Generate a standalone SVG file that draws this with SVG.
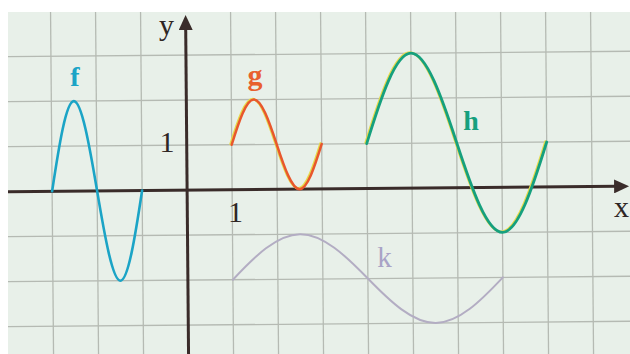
<svg xmlns="http://www.w3.org/2000/svg" width="630" height="354" viewBox="0 0 630 354">
<style>
.grid line{stroke:#b5bab3;stroke-width:1.3}
.axis{stroke:#3a2c2a;stroke-width:3;fill:none}
.crv{fill:none;stroke-linecap:round;stroke-linejoin:round}
.yel{stroke:#e6d94a;stroke-width:2.4}
text{font-family:"Liberation Serif","Times New Roman",serif}
.lbl{fill:#2e2624;font-size:30px}
</style>
<defs>
<clipPath id="c"><rect x="8" y="12" width="622" height="342"/></clipPath>
<marker id="ah" markerUnits="userSpaceOnUse" markerWidth="16" markerHeight="14" refX="3" refY="7" orient="auto">
<path d="M0,0 L15,7 L0,14 z" fill="#3a2c2a"/>
</marker>
</defs>
<rect width="630" height="354" fill="#ffffff"/>
<rect x="8" y="12" width="622" height="342" fill="#e8f0e9"/>
<g clip-path="url(#c)">
<g transform="rotate(-0.5 315 177)">
<g id="grid" class="grid">
<line x1="52" y1="0" x2="52" y2="360"/>
<line x1="97" y1="0" x2="97" y2="360"/>
<line x1="142" y1="0" x2="142" y2="360"/>
<line x1="232" y1="0" x2="232" y2="360"/>
<line x1="277" y1="0" x2="277" y2="360"/>
<line x1="322" y1="0" x2="322" y2="360"/>
<line x1="367" y1="0" x2="367" y2="360"/>
<line x1="412" y1="0" x2="412" y2="360"/>
<line x1="457" y1="0" x2="457" y2="360"/>
<line x1="502" y1="0" x2="502" y2="360"/>
<line x1="547" y1="0" x2="547" y2="360"/>
<line x1="592" y1="0" x2="592" y2="360"/>
<line x1="0" y1="54" x2="640" y2="54"/>
<line x1="0" y1="99" x2="640" y2="99"/>
<line x1="0" y1="144" x2="640" y2="144"/>
<line x1="0" y1="234" x2="640" y2="234"/>
<line x1="0" y1="279" x2="640" y2="279"/>
<line x1="0" y1="324" x2="640" y2="324"/>
</g>
<g id="axes">
<line class="axis" x1="0" y1="189" x2="617" y2="189" marker-end="url(#ah)"/>
<line class="axis" x1="187" y1="360" x2="187" y2="26" marker-end="url(#ah)"/>
</g>
<g id="curves">
<path id="f" class="crv" stroke="#1ba4c6" stroke-width="2.6" d="M52,189 C59.34,142.89 66.80,99 74.5,99 C82.20,99 89.66,142.89 97,189 C104.34,235.11 111.80,279 119.5,279 C127.20,279 134.66,235.11 142,189"/>
<g id="g">
<path class="crv yel" transform="translate(-1.2,-0.6)" d="M232,144 C239.34,120.95 246.80,99 254.5,99 C262.20,99 269.66,120.95 277,144 C284.34,167.05 291.80,189 299.5,189 C307.20,189 314.66,167.05 322,144"/>
<path class="crv" stroke="#e8572d" stroke-width="2.5" d="M232,144 C239.34,120.95 246.80,99 254.5,99 C262.20,99 269.66,120.95 277,144 C284.34,167.05 291.80,189 299.5,189 C307.20,189 314.66,167.05 322,144"/>
</g>
<g id="h">
<path class="crv yel" transform="translate(-1.2,-0.6)" d="M367,144 C381.67,97.89 396.59,54 412,54 C427.41,54 442.33,97.89 457,144 C471.67,190.11 486.59,234 502,234 C517.41,234 532.33,190.11 547,144"/>
<path class="crv" stroke="#16a07e" stroke-width="2.8" d="M367,144 C381.67,97.89 396.59,54 412,54 C427.41,54 442.33,97.89 457,144 C471.67,190.11 486.59,234 502,234 C517.41,234 532.33,190.11 547,144"/>
</g>
<path id="k" class="crv" stroke="#b3adc3" stroke-width="2" d="M232,279 C254.01,255.95 276.39,234 299.5,234 C322.61,234 344.99,255.95 367,279 C389.01,302.05 411.39,324 434.5,324 C457.61,324 479.99,302.05 502,279"/>
</g>
</g>
</g>
<g id="labels">
<text x="75" y="86" font-size="28" font-weight="bold" fill="#1ba4c6" text-anchor="middle">f</text>
<text x="255" y="85" font-size="30" font-weight="bold" fill="#e8602e" text-anchor="middle">g</text>
<text x="471" y="130" font-size="28" font-weight="bold" fill="#16a07e" text-anchor="middle">h</text>
<text x="384.5" y="267" font-size="29" fill="#a9a3c6" text-anchor="middle">k</text>
<text class="lbl" x="166.5" y="35" text-anchor="middle">y</text>
<text class="lbl" x="614" y="217">x</text>
<text class="lbl" x="167" y="152" text-anchor="middle">1</text>
<text class="lbl" x="235.5" y="222" font-size="29" text-anchor="middle">1</text>
</g>
</svg>
